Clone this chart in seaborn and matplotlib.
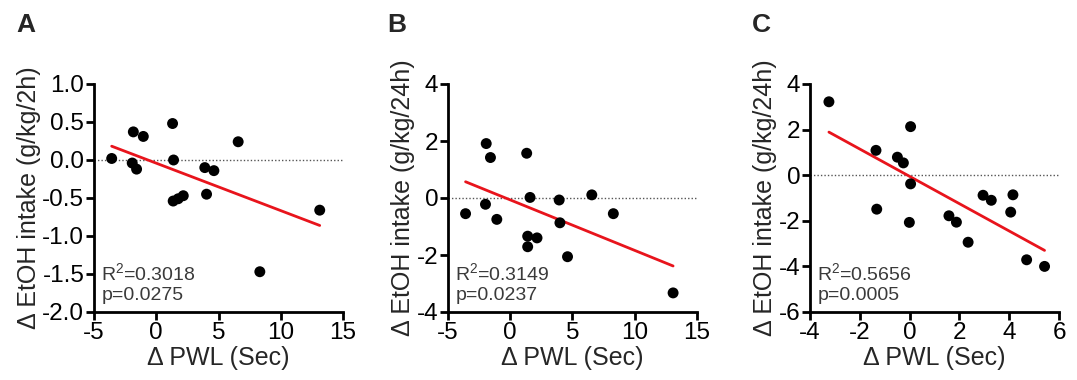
import numpy as np
import seaborn as sns
import matplotlib
matplotlib.use("Agg")
import matplotlib.pyplot as plt

# panel A: PWL change vs 2h EtOH intake change
pwl_a = [-3.58, -1.84, -1.04, -1.93, -1.58, 1.31, 1.39, 1.36, 1.76, 2.17,
         3.90, 4.63, 4.04, 6.58, 13.13, 8.32]
etoh_a = [0.02, 0.37, 0.31, -0.04, -0.12, 0.48, 0.0, -0.54, -0.51, -0.47,
          -0.10, -0.14, -0.45, 0.24, -0.66, -1.47]

# panel B: PWL change vs 24h EtOH intake change
pwl_b = [-3.59, -1.93, -1.59, -1.99, -1.08, 1.32, 1.59, 1.40, 1.40, 2.15,
         3.93, 3.99, 4.60, 6.55, 8.28, 13.08]
etoh_b = [-0.55, 1.91, 1.42, -0.22, -0.75, 1.57, 0.02, -1.34, -1.71, -1.40,
          -0.07, -0.87, -2.06, 0.11, -0.55, -3.33]

# panel C
pwl_c = [-3.24, -1.35, -1.32, -0.49, -0.25, 0.04, 0.04, -0.01, 1.58, 1.88,
         2.35, 2.95, 3.28, 4.06, 4.15, 4.70, 5.42]
etoh_c = [3.22, 1.09, -1.49, 0.79, 0.54, 2.13, -0.38, -2.07, -1.78, -2.06,
          -2.94, -0.88, -1.10, -1.62, -0.86, -3.71, -4.00]

letters = ["A", "B", "C"]
ylabels = ["Δ EtOH intake (g/kg/2h)", "Δ EtOH intake (g/kg/24h)", "Δ EtOH intake (g/kg/24h)"]
stats = ["R$^{2}$=0.3018\np=0.0275", "R$^{2}$=0.3149\np=0.0237", "R$^{2}$=0.5656\np=0.0005"]
xlims = [(-5, 15), (-5, 15), (-4, 6)]
ylims = [(-2, 1), (-4, 4), (-6, 4)]
xticks = [[-5, 0, 5, 10, 15], [-5, 0, 5, 10, 15], [-4, -2, 0, 2, 4, 6]]
yticks = [[-2.0, -1.5, -1.0, -0.5, 0.0, 0.5, 1.0], [-4, -2, 0, 2, 4], [-6, -4, -2, 0, 2, 4]]
ytlabels = [["-2.0", "-1.5", "-1.0", "-0.5", "0.0", "0.5", "1.0"],
            ["-4", "-2", "0", "2", "4"], ["-6", "-4", "-2", "0", "2", "4"]]

sns.set_style("ticks")
plt.rcParams["font.family"] = ["Liberation Sans", "DejaVu Sans"]
plt.rcParams["mathtext.default"] = "regular"
plt.rcParams["axes.unicode_minus"] = False

fig = plt.figure(figsize=(10.77, 3.8), dpi=100)
lefts = [94, 448, 810]
datasets = [(pwl_a, etoh_a), (pwl_b, etoh_b), (pwl_c, etoh_c)]
letter_x = [16, 387, 752]

for i in range(3):
    ax = fig.add_axes([lefts[i] / 1077, 1 - 312 / 380, 249 / 1077, 228 / 380])
    x, y = datasets[i]
    ax.axhline(0, color="#555555", lw=1, ls=(0, (1, 1.5)), zorder=1)
    sns.regplot(x=x, y=y, ax=ax, ci=None, truncate=True,
                scatter_kws=dict(s=62, color="black", alpha=1, edgecolor="none",
                                 zorder=3, clip_on=False),
                line_kws=dict(color="#e8141c", lw=2, zorder=2))
    ax.set_xlim(*xlims[i])
    ax.set_ylim(*ylims[i])
    ax.set_xticks(xticks[i])
    ax.set_yticks(yticks[i])
    ax.set_yticklabels(ytlabels[i])
    sns.despine(ax=ax)
    for s in ["left", "bottom"]:
        ax.spines[s].set_linewidth(2)
        ax.spines[s].set_color("black")
    ax.tick_params(width=2, length=6, labelsize=17.5, pad=1, colors="black")
    ax.set_xlabel("Δ PWL (Sec)", fontsize=18, labelpad=2)
    ax.set_ylabel(ylabels[i], fontsize=18, labelpad=1)
    ax.text(0.03, 0.035, stats[i], transform=ax.transAxes, fontsize=14,
            color="#3a3a3a", ha="left", va="bottom", linespacing=1.25)
    fig.text(letter_x[i] / 1077, 1 - 32 / 380, letters[i], fontsize=19,
             fontweight="bold", ha="left", va="baseline")

fig.savefig("out.png", dpi=100)
